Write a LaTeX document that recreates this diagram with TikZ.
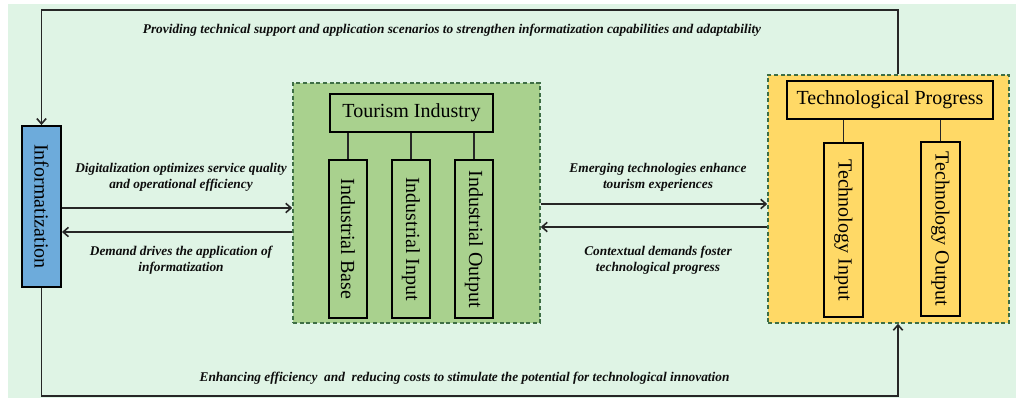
\documentclass[tikz,border=0pt]{standalone}
\usepackage{fontspec}
\setmainfont{Liberation Serif}
\usetikzlibrary{arrows.meta}

\definecolor{bgmint}{HTML}{DFF4E5}
\definecolor{indgreen}{HTML}{A9D18E}
\definecolor{techgold}{HTML}{FFD966}
\definecolor{infoblue}{HTML}{6DABDB}
\definecolor{dashgreen}{HTML}{3E6E45}

\begin{document}
\begin{tikzpicture}[x=0.75pt,y=-0.75pt,
  box/.style={draw=black, line width=1.4pt, inner sep=0pt, align=center,
    font=\fontsize{15}{17}\selectfont},
  group/.style={draw=dashgreen, dash pattern=on 3pt off 2pt, line width=1.1pt, inner sep=0pt},
  link/.style={line width=1.2pt, draw=black!85},
  flow/.style={link, -{Straight Barb[length=4pt,width=7pt]}},
  caption/.style={font=\fontsize{10}{12}\selectfont\bfseries\itshape, align=center, text=black!95},
]
\useasboundingbox (0,0) rectangle (1016,399);
\fill[bgmint] (8,4) rectangle (1016,398);

% Informatization
\node[box, fill=infoblue, minimum width=29.25pt, minimum height=120.75pt] (info) at (41.5,206.5)
  {\rotatebox{-90}{Informatization}};

% Tourism industry group
\node[group, fill=indgreen, minimum width=185.25pt, minimum height=180pt] (ind) at (416.5,203) {};
\node[box, minimum width=122.25pt, minimum height=28.5pt] (tour) at (411.5,113) {Tourism Industry};
\node[box, minimum width=28.5pt, minimum height=118.5pt] (base) at (348,239) {\rotatebox{-90}{Industrial Base}};
\node[box, minimum width=28.5pt, minimum height=118.5pt] (iin) at (411,239) {\rotatebox{-90}{Industrial Input}};
\node[box, minimum width=28.5pt, minimum height=118.5pt] (iout) at (474,239) {\rotatebox{-90}{Industrial Output}};
\foreach \c in {base,iin,iout} \draw[link] (tour.south -| \c.north) -- (\c.north);

% Technological progress group
\node[group, fill=techgold, minimum width=180.75pt, minimum height=186pt] (tech) at (888.5,199) {};
\node[box, minimum width=154.5pt, minimum height=28.5pt] (prog) at (890,100) {Technological Progress};
\node[box, minimum width=29.25pt, minimum height=130.5pt] (tin) at (843.5,230) {\rotatebox{-90}{Technology Input}};
\node[box, minimum width=29.25pt, minimum height=130.5pt] (tout) at (940.5,229) {\rotatebox{-90}{Technology Output}};
\foreach \c in {tin,tout} \draw[link] (prog.south -| \c.north) -- (\c.north);

% Feedback loops
\coordinate (topL) at (41.5,10);
\coordinate (topR) at (898,10);
\coordinate (botL) at (41.5,396);
\coordinate (botR) at (898,396);
\draw[flow] (tech.north -| topR) -- (topR) -- (topL) -- (info.north);
\draw[flow] (info.south) -- (botL) -- (botR) -- (tech.south -| botR);

% Mutual flows
\coordinate (ya) at (0,208);
\coordinate (yb) at (0,232);
\coordinate (yc) at (0,204);
\coordinate (yd) at (0,227);
\draw[flow] (info.east |- ya) -- (ind.west |- ya);
\draw[flow] (ind.west |- yb) -- (info.east |- yb);
\draw[flow] (ind.east |- yc) -- (tech.west |- yc);
\draw[flow] (tech.west |- yd) -- (ind.east |- yd);

% Captions
\node[caption] (c1) at (181,177) {Digitalization optimizes service quality\\and operational efficiency};
\node[caption] (c2) at (181,260) {Demand drives the application of\\informatization};
\node[caption] (c3) at (658,177) {Emerging technologies enhance\\tourism experiences};
\node[caption] (c4) at (658,260) {Contextual demands foster\\technological progress};
\node[caption] (ctop) at (452,30) {Providing technical support and application scenarios to strengthen informatization capabilities and adaptability};
\node[caption] (cbot) at (464.5,378) {Enhancing efficiency~ and~ reducing costs to stimulate the potential for technological innovation};
\end{tikzpicture}
\end{document}
